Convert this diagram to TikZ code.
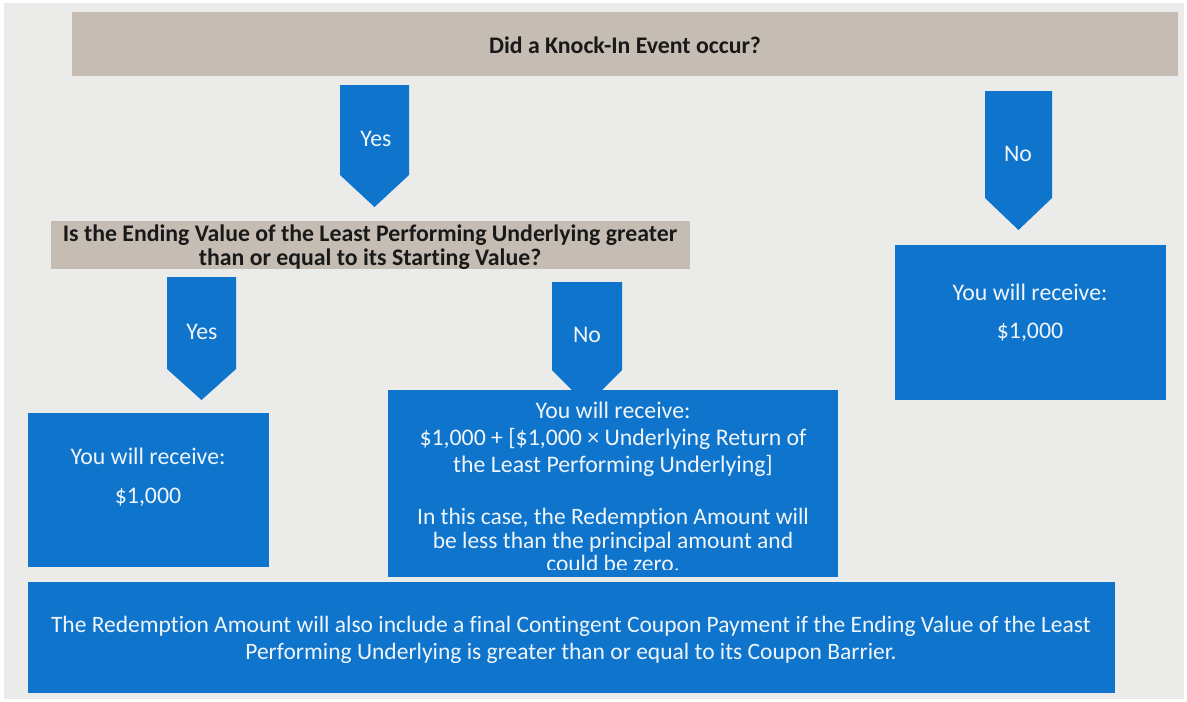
\documentclass[tikz,border=0pt]{standalone}
\usepackage{fontspec}
\setmainfont[Ligatures=NoCommon]{Carlito}
\definecolor{boxblue}{RGB}{14,116,204}
\definecolor{bartan}{RGB}{197,189,179}
\definecolor{pagegray}{RGB}{235,235,234}
\definecolor{textwhite}{RGB}{240,245,250}

\begin{document}
\begin{tikzpicture}[x=1pt,y=-1pt,
    bartext/.style={font=\fontsize{23.8}{24}\selectfont\bfseries, text=black!90, align=center, inner sep=0pt},
    boxtext/.style={font=\fontsize{23.8}{26}\selectfont, text=textwhite, align=center, inner sep=0pt},
    arrowtext/.style={font=\fontsize{23.8}{24}\selectfont, text=textwhite, inner sep=0pt}]
    \useasboundingbox (0,0) rectangle (1187,702);
    \fill[white] (0,0) rectangle (1187,702);
    \fill[pagegray] (4,3) rectangle (1184,699);
    % question bars
    \fill[bartan] (72,12) rectangle (1178,76);
    \node[bartext] (knockin) at (625,45) {Did a Knock-In Event occur?};
    \fill[bartan] (51,221) rectangle (690,269);
    \node[bartext] (ending) at (370,247) {Is the Ending Value of the Least Performing Underlying greater\\than or equal to its Starting Value?};
    % block arrows
    \fill[boxblue] (340,85) -- (409,85) -- (409,175) -- (374.5,207) -- (340,175) -- cycle;
    \node[arrowtext] (yesone) at (376,139) {Yes};
    \fill[boxblue] (985,91) -- (1052,91) -- (1052,198) -- (1018.5,230) -- (985,198) -- cycle;
    \node[arrowtext] (noone) at (1018,154) {No};
    \fill[boxblue] (167,277) -- (236,277) -- (236,369) -- (201.5,400) -- (167,369) -- cycle;
    \node[arrowtext] (yestwo) at (202,332) {Yes};
    \fill[boxblue] (552,282) -- (622,282) -- (622,370) -- (587,405) -- (552,370) -- cycle;
    \node[arrowtext] (notwo) at (587,335) {No};
    % result boxes
    \fill[boxblue] (28,413) rectangle (269,567);
    \node[boxtext] (leftrecv) at (148,456) {You will receive:};
    \node[boxtext] (leftamt) at (148,497) {\$1,000};
    \fill[boxblue] (895,245) rectangle (1166,400);
    \node[boxtext] (rightrecv) at (1030,292) {You will receive:};
    \node[boxtext] (rightamt) at (1030,332) {\$1,000};
    \fill[boxblue] (388,390) rectangle (838,577);
    \begin{scope}
        \clip (388,390) rectangle (838,569);
        \node[boxtext, font=\fontsize{23.8}{26.8}\selectfont] (formula) at (613,439.5) {You will receive:\\\$1,000 + [\$1,000 × Underlying Return of\\the Least Performing Underlying]};
        \node[boxtext, font=\fontsize{23.5}{23.5}\selectfont] (lesscase) at (613,540) {In this case, the Redemption Amount will\\be less than the principal amount and\\could be zero.};
    \end{scope}
    % coupon note
    \fill[boxblue] (28,582) rectangle (1115,693);
    \node[boxtext, font=\fontsize{23.5}{27}\selectfont] (coupon) at (571,640) {The Redemption Amount will also include a final Contingent Coupon Payment if the Ending Value of the Least\\Performing Underlying is greater than or equal to its Coupon Barrier.};
\end{tikzpicture}
\end{document}
